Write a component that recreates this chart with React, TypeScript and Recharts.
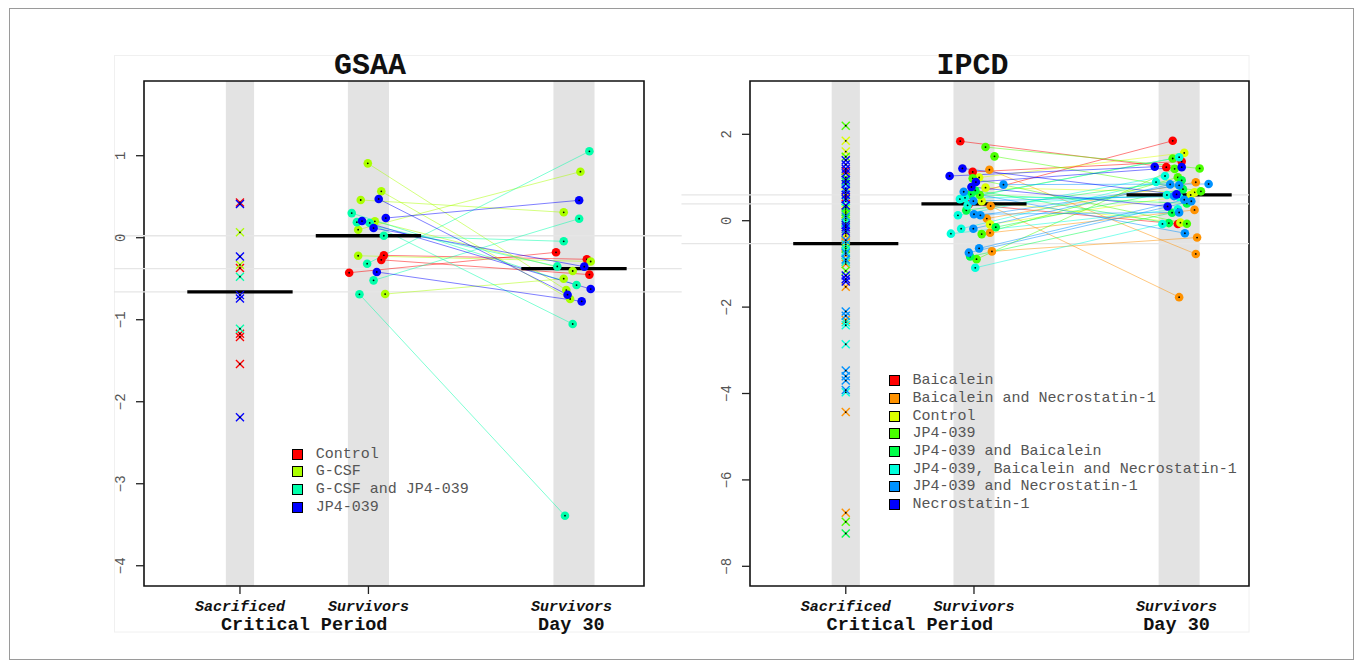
import React from "react";
import { ScatterChart, Scatter, XAxis, YAxis, ReferenceArea, ReferenceLine, Legend } from "recharts";

const MONO = "'Liberation Mono', 'Courier New', monospace";

// shared layout of the columns (x units)
const columnX = [1, 2, 3.6];
const bandHalfWidth = [0.11, 0.16, 0.16];
const meanHalfWidth = 0.41;
const xDomain = [0.253, 4.145];
const xTickValues = [1, 2, 3.58];
const xTickLabels = ["Sacrificed", "Survivors", "Survivors"];
const periodTickValues = [1.5, 3.58];
const periodLabels = ["Critical Period", "Day 30"];

// ---------------- GSAA ----------------
const gsaaGroups = ["Control", "G-CSF", "G-CSF and JP4-039", "JP4-039"];
const gsaaColors = ["#FF0000", "#AAFF00", "#00FFAA", "#0000FF"];
const gsaaSacrificed = [
  [0.43, -0.37, -1.17, -1.21, -1.54],
  [0.066, -0.33],
  [-0.475, -1.11],
  [0.41, -0.23, -0.7, -0.74, -2.19],
];
const gsaaCritical = [
  [-0.215, -0.27, -0.427],
  [0.907, 0.566, 0.46, 0.2, 0.098, -0.22, -0.687],
  [0.3, 0.19, 0.18, 0.024, -0.317, -0.52, -0.69],
  [0.472, 0.24, 0.203, 0.118, -0.418],
];
const gsaaCriticalX = [
  [2.12, 2.1, 1.85],
  [1.995, 2.1, 1.94, 2.05, 1.92, 1.92, 2.13],
  [1.87, 1.91, 2.01, 2.12, 1.99, 2.04, 1.93],
  [2.08, 2.135, 1.95, 2.04, 2.065],
];
const gsaaDay30 = [
  [-0.263, -0.45, -0.178],
  [-0.638, -0.747, 0.31, -0.406, 0.805, -0.29, -0.5],
  [-0.577, -0.35, -1.052, -0.044, 1.054, 0.232, -3.39],
  [-0.695, 0.456, -0.626, -0.353, -0.776],
];
const gsaaDay30X = [
  [3.7, 3.72, 3.46],
  [3.54, 3.57, 3.52, 3.59, 3.65, 3.73, 3.52],
  [3.62, 3.47, 3.59, 3.52, 3.72, 3.64, 3.53],
  [3.55, 3.64, 3.73, 3.68, 3.66],
];
const gsaaMeans = [-0.66, 0.024, -0.378];
const gsaaYTicks = [-4, -3, -2, -1, 0, 1];
const gsaaYDomain = [-4.247, 1.911];

// ---------------- IPCD ----------------
const ipcdGroups = [
  "Baicalein",
  "Baicalein and Necrostatin-1",
  "Control",
  "JP4-039",
  "JP4-039 and Baicalein",
  "JP4-039, Baicalein and Necrostatin-1",
  "JP4-039 and Necrostatin-1",
  "Necrostatin-1",
];
const ipcdColors = ["#FF0000", "#FF9200", "#DBFF00", "#49FF00", "#00FF49", "#00FFDB", "#0092FF", "#0000FF"];
const ipcdSacrificed = [
  [1.15, 0.55, -0.45, -0.55],
  [0.35, -0.35, -0.5, -0.6, -0.8, -0.95, -1.0, -1.53, -2.3, -4.43, -6.76],
  [1.85, 1.6, 0.65, 0.25, 0.0, -0.3, -0.6],
  [2.2, 1.48, 1.0, 0.2, 0.15, -0.05, -1.16, -6.97],
  [0.9, 0.3, 0.05, -0.65, -7.24],
  [0.45, -0.05, -0.55, -0.7, -0.9, -0.95, -2.35, -2.42, -2.86, -3.97],
  [0.75, 0.1, -0.2, -0.45, -0.75, -0.9, -2.1, -2.2, -3.47, -3.6, -3.7, -3.92],
  [1.4, 1.3, 1.2, 1.1, 0.95, 0.85, 0.7, 0.6, 0.5, 0.35, -0.1, -0.15, -0.25, -1.27, -1.35, -1.41],
];
const ipcdCritical = [
  [1.84, 1.13, 0.61, 0.38],
  [1.18, 0.34, -0.28, -0.71, 0.05],
  [1.0, 0.765, -0.085, 0.45],
  [1.705, 1.49, 0.98, 0.595, -0.31, -0.89],
  [0.61, 0.24, -0.15, -0.83, 0.7],
  [0.5, 0.355, 0.125, -0.185, -0.3, -1.09, 0.53],
  [0.835, 0.67, 0.455, 0.125, -0.185, -0.64, -0.74, 0.15],
  [1.21, 1.035, 0.895, 0.78],
];
const ipcdCriticalX = [
  [1.893, 1.99, 1.97, 1.96],
  [2.12, 2.13, 2.125, 2.14, 2.1],
  [2.04, 2.09, 2.125, 2.06],
  [2.09, 2.16, 1.99, 2.045, 2.06, 2.02],
  [1.975, 1.94, 2.17, 1.97, 2.01],
  [1.89, 1.95, 1.875, 1.9, 1.82, 2.01, 1.93],
  [2.23, 1.92, 1.995, 2.05, 1.995, 2.04, 1.96, 2.0],
  [1.91, 1.81, 2.015, 1.98],
];
const ipcdDay30 = [
  [1.24, 1.37, 1.85, -0.075],
  [-0.77, -1.77, 0.25, -0.39, 0.89],
  [1.57, 0.655, 0.595, -0.045],
  [1.21, 0.68, -0.07, 1.44, 1.005, 1.2],
  [0.4, 0.935, 0.73, 0.185, -0.055],
  [1.47, 0.595, 1.035, 0.895, 0.265, -0.075, 0.55],
  [0.85, -0.29, 0.57, 0.82, 0.84, 0.485, 0.45, 0.19],
  [0.61, 1.25, 1.24, 0.33],
];
const ipcdDay30X = [
  [3.5, 3.62, 3.55, 3.59],
  [3.73, 3.6, 3.72, 3.74, 3.73],
  [3.64, 3.72, 3.69, 3.61],
  [3.76, 3.77, 3.66, 3.55, 3.59, 3.565],
  [3.66, 3.62, 3.63, 3.545, 3.52],
  [3.6, 3.505, 3.49, 3.42, 3.59, 3.47, 3.6],
  [3.83, 3.645, 3.56, 3.6, 3.53, 3.64, 3.695, 3.6],
  [3.58, 3.41, 3.62, 3.51],
];
const ipcdMeans = [-0.53, 0.39, 0.6];
const ipcdYTicks = [-8, -6, -4, -2, 0, 2];
const ipcdYDomain = [-8.456, 3.234];

const fmtTick = (v: number) => (v < 0 ? "\u2212" + Math.abs(v) : String(v));

const emptyShape = () => <g />;

const dotShape = (color: string) => (s: any) => (
  <g>
    <circle cx={s.cx} cy={s.cy} r={4.3} fill={color} />
    <circle cx={s.cx} cy={s.cy} r={0.9} fill="#000" />
  </g>
);

const crossShape = (color: string) => (s: any) => (
  <g>
    <line x1={s.cx - 4} y1={s.cy - 4} x2={s.cx + 4} y2={s.cy + 4} stroke={color} strokeWidth={1.4} />
    <line x1={s.cx - 4} y1={s.cy + 4} x2={s.cx + 4} y2={s.cy - 4} stroke={color} strokeWidth={1.4} />
    <circle cx={s.cx} cy={s.cy} r={0.9} fill="#000" />
  </g>
);

const renderColTick = (tp: any) => {
  const i = xTickValues.indexOf(tp.payload.value);
  return (
    <g>
      {i < 2 && <line x1={tp.x} x2={tp.x} y1={tp.y - 10} y2={tp.y - 2} stroke="#222" strokeWidth={1.3} />}
      <text x={tp.x} y={tp.y + 15} textAnchor="middle" fontFamily={MONO} fontWeight="bold" fontStyle="italic" fontSize={15} fill="#111">
        {xTickLabels[i]}
      </text>
    </g>
  );
};

const renderPeriodTick = (tp: any) => {
  const i = periodTickValues.indexOf(tp.payload.value);
  return (
    <text x={tp.x} y={tp.y + 22} textAnchor="middle" fontFamily={MONO} fontWeight="bold" fontSize={18.5} fill="#111">
      {periodLabels[i]}
    </text>
  );
};

const renderYTick = (tp: any) => (
  <text transform={`translate(${tp.x - 9},${tp.y}) rotate(-90)`} textAnchor="middle" fontFamily={MONO} fontSize={14} fill="#555">
    {fmtTick(tp.payload.value)}
  </text>
);

type PanelProps = {
  left: number;
  width: number;
  marginLeft: number;
  marginRight: number;
  groups: string[];
  colors: string[];
  sacrificed: number[][];
  critical: number[][];
  criticalX: number[][];
  day30: number[][];
  day30X: number[][];
  means: number[];
  yDomain: number[];
  yTicks: number[];
  faintX: number[];
  legendLeft: number;
  legendTop: number;
};

function Panel(p: PanelProps) {
  const connectors: React.ReactNode[] = [];
  p.critical.forEach((vals, g) =>
    vals.forEach((v, i) => {
      connectors.push(
        <Scatter
          key={`con-${g}-${i}`}
          data={[
            { x: p.criticalX[g][i], y: v },
            { x: p.day30X[g][i], y: p.day30[g][i] },
          ]}
          line={{ stroke: p.colors[g], strokeOpacity: 0.5, strokeWidth: 1 }}
          shape={emptyShape}
          legendType="none"
          isAnimationActive={false}
        />
      );
    })
  );

  const meanLines = p.means.map((m, c) => (
    <Scatter
      key={`mean-${c}`}
      data={[
        { x: columnX[c] - meanHalfWidth, y: m },
        { x: columnX[c] + meanHalfWidth, y: m },
      ]}
      line={{ stroke: "#000", strokeWidth: 3.3 }}
      shape={emptyShape}
      legendType="none"
      isAnimationActive={false}
    />
  ));

  const sacrificedPts = p.sacrificed.map((vals, g) => (
    <Scatter
      key={`sac-${g}`}
      data={vals.map((v) => ({ x: columnX[0], y: v }))}
      shape={crossShape(p.colors[g])}
      legendType="none"
      isAnimationActive={false}
    />
  ));

  const critPts = p.critical.map((vals, g) => (
    <Scatter
      key={`crit-${g}`}
      data={vals.map((v, i) => ({ x: p.criticalX[g][i], y: v }))}
      shape={dotShape(p.colors[g])}
      legendType="none"
      isAnimationActive={false}
    />
  ));

  const dayPts = p.day30.map((vals, g) => (
    <Scatter
      key={`d30-${g}`}
      data={vals.map((v, i) => ({ x: p.day30X[g][i], y: v }))}
      shape={dotShape(p.colors[g])}
      legendType="none"
      isAnimationActive={false}
    />
  ));

  const legendContent = () => (
    <div style={{ fontFamily: MONO, fontSize: 15, color: "#555" }}>
      {p.groups.map((g, i) => (
        <div key={g} style={{ display: "flex", alignItems: "center", height: 17.7, whiteSpace: "pre" }}>
          <span
            style={{
              display: "inline-block",
              width: 11,
              height: 11,
              boxSizing: "border-box",
              border: "1.5px solid #000",
              background: p.colors[i],
              marginRight: 13,
            }}
          />
          <span>{g}</span>
        </div>
      ))}
    </div>
  );

  return (
    <div style={{ position: "absolute", left: p.left, top: 0 }}>
      <ScatterChart
        width={p.width}
        height={668}
        margin={{ top: 81, right: p.marginRight, bottom: 38, left: p.marginLeft }}
      >
        <XAxis
          type="number"
          dataKey="x"
          domain={xDomain}
          allowDataOverflow
          ticks={xTickValues}
          interval={0}
          height={22}
          tickSize={8}
          tickMargin={2}
          axisLine={false}
          tickLine={false}
          tick={renderColTick}
        />
        <XAxis
          xAxisId="period"
          type="number"
          dataKey="x"
          domain={xDomain}
          allowDataOverflow
          ticks={periodTickValues}
          interval={0}
          height={22}
          tickSize={0}
          tickMargin={0}
          axisLine={false}
          tickLine={false}
          tick={renderPeriodTick}
        />
        <YAxis
          type="number"
          dataKey="y"
          domain={p.yDomain}
          allowDataOverflow
          ticks={p.yTicks}
          interval={0}
          width={40}
          tickSize={8}
          tickMargin={2}
          axisLine={false}
          tickLine={{ stroke: "#222", strokeWidth: 1.3 }}
          tick={renderYTick}
        />
        {columnX.map((c, k) => (
          <ReferenceArea
            key={`band-${k}`}
            x1={c - bandHalfWidth[k]}
            x2={c + bandHalfWidth[k]}
            y1={p.yDomain[0]}
            y2={p.yDomain[1]}
            fill="#E3E3E3"
            fillOpacity={1}
            stroke="none"
          />
        ))}
        {p.means.map((m, k) => (
          <ReferenceLine
            key={`faint-${k}`}
            segment={[
              { x: p.faintX[0], y: m },
              { x: p.faintX[1], y: m },
            ]}
            stroke="#E6E6E6"
            strokeWidth={1.3}
            ifOverflow="visible"
          />
        ))}
        {connectors}
        {meanLines}
        {sacrificedPts}
        {critPts}
        {dayPts}
        <ReferenceArea
          x1={xDomain[0]}
          x2={xDomain[1]}
          y1={p.yDomain[0]}
          y2={p.yDomain[1]}
          fill="none"
          stroke="#111"
          strokeWidth={1.6}
          ifOverflow="visible"
        />
        <Legend
          layout="vertical"
          align="center"
          verticalAlign="middle"
          content={legendContent}
          wrapperStyle={{ left: p.legendLeft, top: p.legendTop, width: 420, height: "auto" }}
        />
      </ScatterChart>
    </div>
  );
}

export default function App() {
  return (
    <div style={{ position: "absolute", left: 0, top: 0, width: 1355, height: 668, background: "#fff", overflow: "hidden" }}>
      <svg width={1355} height={668} style={{ position: "absolute", left: 0, top: 0 }}>
        <rect x={9.5} y={8.5} width={1344} height={651} fill="none" stroke="#9a9a9a" strokeWidth={1} />
        <rect x={114.5} y={55.5} width={1134.5} height={576.5} fill="none" stroke="#F0F0F0" strokeWidth={1} />
        <text x={370} y={74} textAnchor="middle" fontFamily={MONO} fontWeight="bold" fontSize={30} fill="#111">
          GSAA
        </text>
        <text x={972.5} y={74} textAnchor="middle" fontFamily={MONO} fontWeight="bold" fontSize={30} fill="#111">
          IPCD
        </text>
      </svg>
      <Panel
        left={0}
        width={690}
        marginLeft={104}
        marginRight={46}
        groups={gsaaGroups}
        colors={gsaaColors}
        sacrificed={gsaaSacrificed}
        critical={gsaaCritical}
        criticalX={gsaaCriticalX}
        day30={gsaaDay30}
        day30X={gsaaDay30X}
        means={gsaaMeans}
        yDomain={gsaaYDomain}
        yTicks={gsaaYTicks}
        faintX={[0.0187, 4.4385]}
        legendLeft={291.7}
        legendTop={445.2}
      />
      <Panel
        left={670}
        width={685}
        marginLeft={40}
        marginRight={106}
        groups={ipcdGroups}
        colors={ipcdColors}
        sacrificed={ipcdSacrificed}
        critical={ipcdCritical}
        criticalX={ipcdCriticalX}
        day30={ipcdDay30}
        day30X={ipcdDay30X}
        means={ipcdMeans}
        yDomain={ipcdYDomain}
        yTicks={ipcdYTicks}
        faintX={[-0.2815, 4.145]}
        legendLeft={218.6}
        legendTop={371.9}
      />
    </div>
  );
}
